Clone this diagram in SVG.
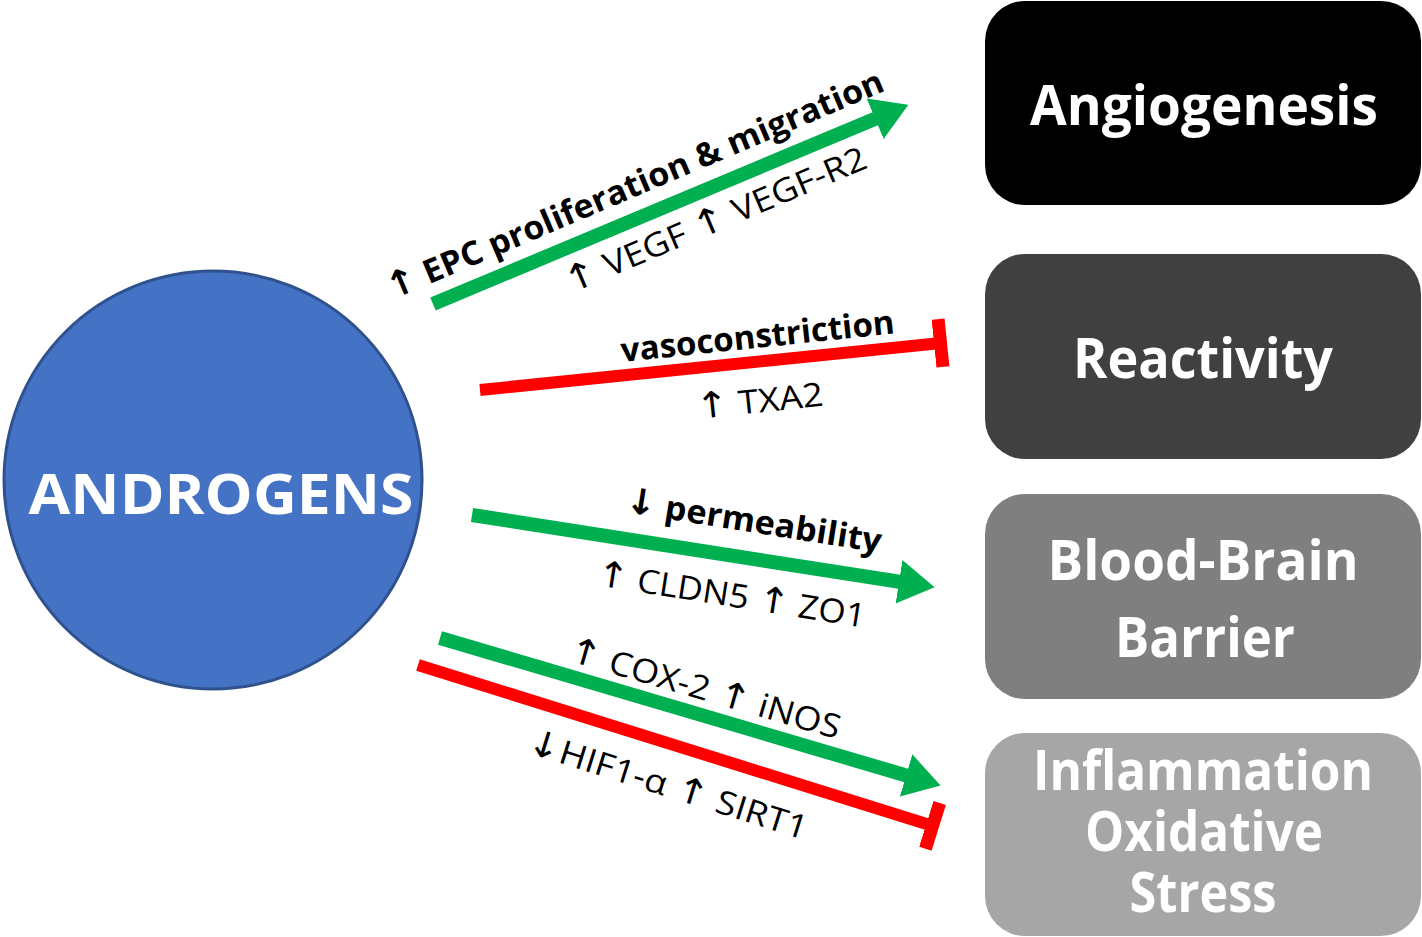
<svg xmlns="http://www.w3.org/2000/svg" width="1422" height="937" viewBox="0 0 1422 937">
<defs>
<style>
.box text{font-family:"Open Sans","Liberation Sans",sans-serif;font-weight:bold;fill:#fff;font-size:56px;text-anchor:middle}
.lbl{font-family:"Open Sans","Liberation Sans",sans-serif;font-size:33px;fill:#000}
.b{font-weight:bold}
.ar{font-family:"DejaVu Sans",sans-serif;font-weight:normal;font-size:36px}
.b .ar{font-weight:bold}
.g{stroke:#00b050;stroke-width:14;fill:none}
.r{stroke:#ff0000;stroke-width:12;fill:none}
</style>
<marker id="ah" markerUnits="userSpaceOnUse" viewBox="0 -24 40 48" refX="2" refY="0" markerWidth="40" markerHeight="48" orient="auto">
<path d="M0,-22 L36,0 L0,22 z" fill="#00b050"/>
</marker>
<marker id="tee" markerUnits="userSpaceOnUse" viewBox="-7 -25 14 50" refX="0" refY="0" markerWidth="14" markerHeight="50" orient="auto">
<rect x="-7" y="-24" width="13" height="48" fill="#ff0000"/>
</marker>
</defs>
<rect width="1422" height="937" fill="#fff"/>

<g id="androgens" class="box">
<circle cx="213" cy="480" r="209" fill="#4472c4" stroke="#2f528f" stroke-width="3"/>
<text x="221" y="514" font-size="60" textLength="385" lengthAdjust="spacingAndGlyphs">ANDROGENS</text>
</g>

<g id="angiogenesis" class="box">
<rect x="985" y="1" width="436" height="204" rx="40" fill="#000"/>
<text x="1204" y="125" textLength="348" lengthAdjust="spacingAndGlyphs">Angiogenesis</text>
</g>
<g id="reactivity" class="box">
<rect x="985" y="254" width="436" height="205" rx="40" fill="#404040"/>
<text x="1203" y="378" textLength="260" lengthAdjust="spacingAndGlyphs">Reactivity</text>
</g>
<g id="bbb" class="box">
<rect x="985" y="494" width="436" height="205" rx="40" fill="#7f7f7f"/>
<text x="1203" y="580" textLength="311" lengthAdjust="spacingAndGlyphs">Blood-Brain</text>
<text x="1205" y="657" textLength="180" lengthAdjust="spacingAndGlyphs">Barrier</text>
</g>
<g id="inflammation" class="box">
<rect x="985" y="733" width="436" height="203" rx="40" fill="#a6a6a6"/>
<text x="1203" y="790" textLength="340" lengthAdjust="spacingAndGlyphs">Inflammation</text>
<text x="1204" y="851" textLength="238" lengthAdjust="spacingAndGlyphs">Oxidative</text>
<text x="1203" y="912" textLength="147" lengthAdjust="spacingAndGlyphs">Stress</text>
</g>

<g id="connectors">
<line class="g" x1="433" y1="304" x2="877" y2="118" marker-end="url(#ah)"/>
<line class="r" x1="480" y1="390" x2="941" y2="343" marker-end="url(#tee)"/>
<line class="g" x1="472" y1="515" x2="901" y2="582" marker-end="url(#ah)"/>
<line class="g" x1="440" y1="638" x2="908" y2="776" marker-end="url(#ah)"/>
<line class="r" x1="418" y1="665" x2="933" y2="826" marker-end="url(#tee)"/>
</g>

<g id="labels">
<text class="lbl b" transform="translate(392,300) rotate(-23)" textLength="537" lengthAdjust="spacingAndGlyphs"><tspan class="ar">↑</tspan> EPC proliferation &amp; migration</text>
<text class="lbl" transform="translate(570,294) rotate(-23)" textLength="325" lengthAdjust="spacingAndGlyphs"><tspan class="ar">↑</tspan> VEGF <tspan class="ar">↑</tspan> VEGF-R2</text>
<text class="lbl b" transform="translate(622,362) rotate(-6)" textLength="275" lengthAdjust="spacingAndGlyphs">vasoconstriction</text>
<text class="lbl" transform="translate(697,419) rotate(-6)" textLength="128" lengthAdjust="spacingAndGlyphs"><tspan class="ar">↑</tspan> TXA2</text>
<text class="lbl b" transform="translate(624,512) rotate(9)" textLength="259" lengthAdjust="spacingAndGlyphs"><tspan class="ar">↓</tspan> permeability</text>
<text class="lbl" transform="translate(595,585) rotate(9)" textLength="272" lengthAdjust="spacingAndGlyphs"><tspan class="ar">↑</tspan> CLDN5 <tspan class="ar">↑</tspan> ZO1</text>
<text class="lbl" transform="translate(566,660) rotate(16.3)" textLength="282" lengthAdjust="spacingAndGlyphs"><tspan class="ar">↑</tspan> COX-2 <tspan class="ar">↑</tspan> iNOS</text>
<text class="lbl" transform="translate(525,752) rotate(17.5)" textLength="292" lengthAdjust="spacingAndGlyphs"><tspan class="ar">↓</tspan>HIF1-α <tspan class="ar">↑</tspan> SIRT1</text>
</g>
</svg>
